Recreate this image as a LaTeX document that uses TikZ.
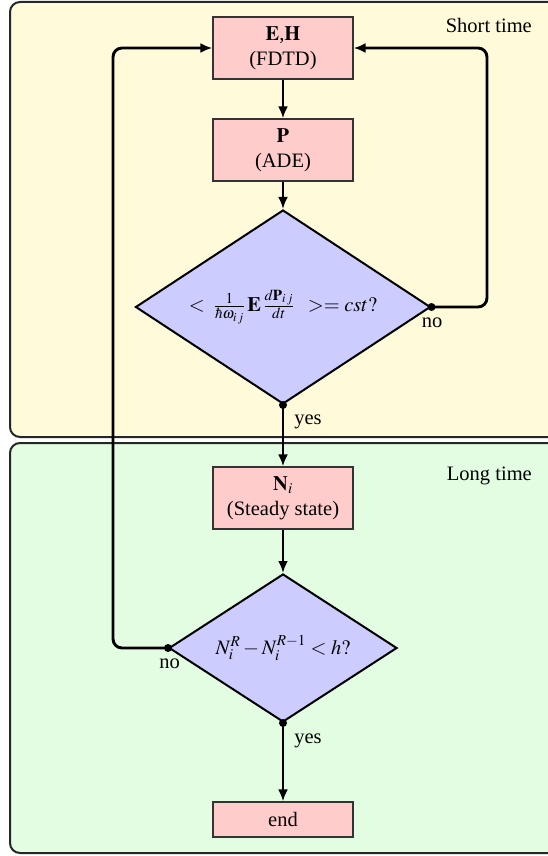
\documentclass[tikz,border=0pt]{standalone}
\usepackage{mathptmx}
\usepackage{fontspec}
\setmainfont{Liberation Serif}
\usetikzlibrary{shapes.geometric,arrows.meta}
\definecolor{shortbg}{HTML}{FFFAD9}
\definecolor{longbg}{HTML}{E3FDE3}
\definecolor{boxpink}{HTML}{FFCCCC}
\definecolor{diablue}{HTML}{CCCCFF}
\begin{document}
\begin{tikzpicture}[x=1pt,y=-1pt, font=\fontsize{20.5}{25}\selectfont,
 panel/.style={draw=black!85, line width=2pt, rounded corners=10pt},
 procbox/.style={draw=black!80, fill=boxpink, line width=1.3pt, minimum width=140pt, minimum height=62pt, align=center, inner sep=0pt},
 decision/.style={diamond, draw=black, fill=diablue, line width=2pt, inner sep=0pt},
 conn/.style={line width=2.9pt, -{Latex[length=12pt,width=10pt]}},
 loopline/.style={conn, rounded corners=9pt},
 branch/.style={circle, fill=black, inner sep=0pt, minimum size=8pt},
 lbl/.style={inner sep=0pt}]
\useasboundingbox (0,0) rectangle (548,856);
\clip (0,0) rectangle (548,856);
% panels
\draw[panel, fill=shortbg] (10,2) rectangle (580,437);
\draw[panel, fill=longbg] (10,443) rectangle (580,853);
\node[lbl, anchor=base east] (shortlbl) at (532,33) {Short time};
\node[lbl, anchor=base east] (longlbl) at (532,480) {Long time};
% nodes
\node[procbox] (eh) at (283,48) {$\mathbf{E}$,$\mathbf{H}$\\(FDTD)};
\node[procbox] (p) at (283,150) {$\mathbf{P}$\\(ADE)};
\node[decision, minimum width=295pt, minimum height=194pt] (d1) at (283,307) {};
\node[lbl] (d1text) at (d1.center)
  {$<\;\frac{1}{\hbar\omega_{i\,j}}\,\mathbf{E}\,\frac{d\mathbf{P}_{i\,j}}{dt}\;\;>=cst?$};
\node[procbox] (n) at (283,498) {$\mathbf{N}_i$\\(Steady state)};
\node[decision, minimum width=228pt, minimum height=148pt] (d2) at (283,648) {};
\node[lbl] (d2text) at (d2.center) {$N_i^R-N_i^{R-1}<h?$};
\node[procbox, minimum height=35pt] (endbox) at (283,819.5) {end};
% branch dots
\node[branch] (d1no) at (d1.east) {};
\node[branch] (d1yes) at (d1.south) {};
\node[branch] (d2no) at (d2.west) {};
\node[branch] (d2yes) at (d2.south) {};
\coordinate (rtop) at (487,48);
\coordinate (ltop) at (113,48);
% connectors
\draw[conn] (eh) -- (p);
\draw[conn] (p) -- (d1);
\draw[conn] (d1yes.center) -- (n);
\draw[conn] (n) -- (d2);
\draw[conn] (d2yes.center) -- (endbox);
\draw[loopline] (d1no.center) -| (rtop) -- (eh.east);
\draw[loopline] (d2no.center) -| (ltop) -- (eh.west);
% labels
\node[lbl] (no1) at (432,322.5) {no};
\node[lbl] (yes1) at (308,421.5) {yes};
\node[lbl] (no2) at (169.5,663.5) {no};
\node[lbl] (yes2) at (308,741) {yes};
\end{tikzpicture}
\end{document}
